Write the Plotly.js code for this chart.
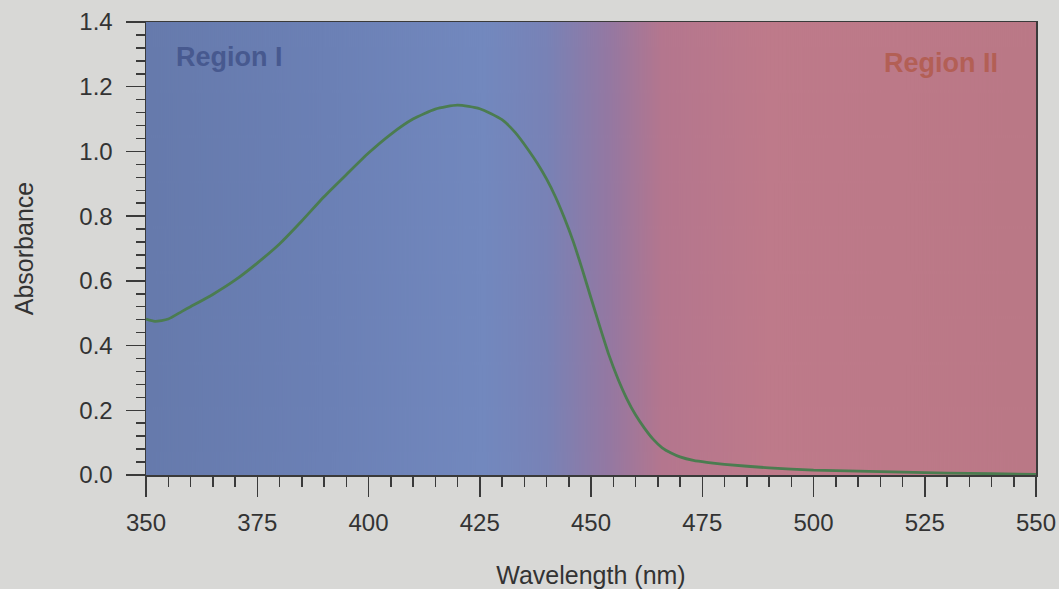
<!DOCTYPE html>
<html>
<head>
<meta charset="utf-8">
<script src="https://cdn.plot.ly/plotly-3.0.1.min.js"></script>
<style>
html,body{margin:0;padding:0;background:#d8d8d6;}
#chart{width:1059px;height:589px;}
</style>
</head>
<body>
<div id="chart"></div>
<script>
// Data
var wavelength = [350,352,355,358,360,365,370,375,380,385,390,395,400,405,410,415,420,425,430,433,436,438,440,442,444,446,448,450,452,454,456,458,460,462,464,466,468,470,473,476,480,490,500,510,520,530,540,550];
var absorbance = [0.482,0.475,0.482,0.505,0.520,0.558,0.602,0.655,0.714,0.785,0.860,0.928,0.995,1.053,1.100,1.131,1.143,1.132,1.098,1.058,1.003,0.962,0.915,0.860,0.795,0.722,0.637,0.547,0.458,0.372,0.299,0.237,0.186,0.145,0.110,0.084,0.068,0.056,0.045,0.039,0.033,0.022,0.015,0.012,0.009,0.006,0.004,0.002];
var xTickVals = [350,375,400,425,450,475,500,525,550];
var yTickVals = [0,0.2,0.4,0.6,0.8,1.0,1.2,1.4];
var regionLabels = ["Region I","Region II"];

// Background gradient (blue -> purple -> pink) as an image
function makeGradient(){
  var c = document.createElement('canvas');
  c.width = 890; c.height = 10;
  var ctx = c.getContext('2d');
  var g = ctx.createLinearGradient(0,0,890,0);
  g.addColorStop(0.00,'rgb(102,122,172)');
  g.addColorStop(0.20,'rgb(107,128,181)');
  g.addColorStop(0.38,'rgb(114,136,190)');
  g.addColorStop(0.45,'rgb(120,130,182)');
  g.addColorStop(0.52,'rgb(148,120,162)');
  g.addColorStop(0.58,'rgb(180,118,142)');
  g.addColorStop(0.70,'rgb(190,122,138)');
  g.addColorStop(1.00,'rgb(186,120,134)');
  ctx.fillStyle = g;
  ctx.fillRect(0,0,890,10);
  return c.toDataURL();
}

var trace = {
  x: wavelength,
  y: absorbance,
  type: 'scatter',
  mode: 'lines',
  line: {color:'#4b7c50', width:2.8, shape:'spline', smoothing:0.6},
  hoverinfo: 'skip'
};

var FAM = 'Liberation Sans, Arial, sans-serif';
var axisFont = {family:FAM, size:24, color:'#333'};

var layout = {
  width:1059, height:589,
  margin:{l:146, r:23, t:22, b:114},
  paper_bgcolor:'#d8d8d6',
  plot_bgcolor:'rgba(0,0,0,0)',
  showlegend:false,
  font:axisFont,
  images:[{
    source: makeGradient(),
    xref:'paper', yref:'paper', x:0, y:1, sizex:1, sizey:1,
    sizing:'stretch', layer:'below', xanchor:'left', yanchor:'top'
  }],
  xaxis:{
    range:[350,550], tickvals:xTickVals, ticktext:xTickVals.map(String),
    ticks:'outside', ticklen:20, tickwidth:1.5, tickcolor:'#3a3a3a',
    ticklabelstandoff:6,
    minor:{dtick:5, tick0:350, ticks:'outside', ticklen:10, tickwidth:1.5, tickcolor:'#3a3a3a', showgrid:false},
    showline:true, linecolor:'#3a3a3a', linewidth:1.5, mirror:true,
    showgrid:false, zeroline:false,
    tickfont:axisFont,
    title:{text:'Wavelength (nm)', font:{family:FAM, size:25, color:'#333'}, standoff:31}
  },
  yaxis:{
    range:[0,1.4], tickvals:yTickVals, tickformat:'.1f',
    ticks:'outside', ticklen:19, tickwidth:1.5, tickcolor:'#3a3a3a',
    ticklabelstandoff:8,
    minor:{dtick:0.04, tick0:0, ticks:'outside', ticklen:9, tickwidth:1.5, tickcolor:'#3a3a3a', showgrid:false},
    showline:true, linecolor:'#3a3a3a', linewidth:1.5, mirror:true,
    showgrid:false, zeroline:false,
    tickfont:axisFont,
    title:{text:'Absorbance', font:{family:FAM, size:25, color:'#333'}, standoff:38}
  },
  annotations:[
    {text:'<b>'+regionLabels[0]+'</b>', xref:'paper', yref:'paper', x:0.032, y:0.922, xanchor:'left', yanchor:'middle', showarrow:false,
     font:{family:FAM, size:27, color:'#47598f'}},
    {text:'<b>'+regionLabels[1]+'</b>', xref:'paper', yref:'paper', x:0.959, y:0.909, xanchor:'right', yanchor:'middle', showarrow:false,
     font:{family:FAM, size:27, color:'#b35f55'}}
  ]
};

Plotly.newPlot('chart',[trace],layout,{displayModeBar:false, staticPlot:true});
</script>
</body>
</html>
